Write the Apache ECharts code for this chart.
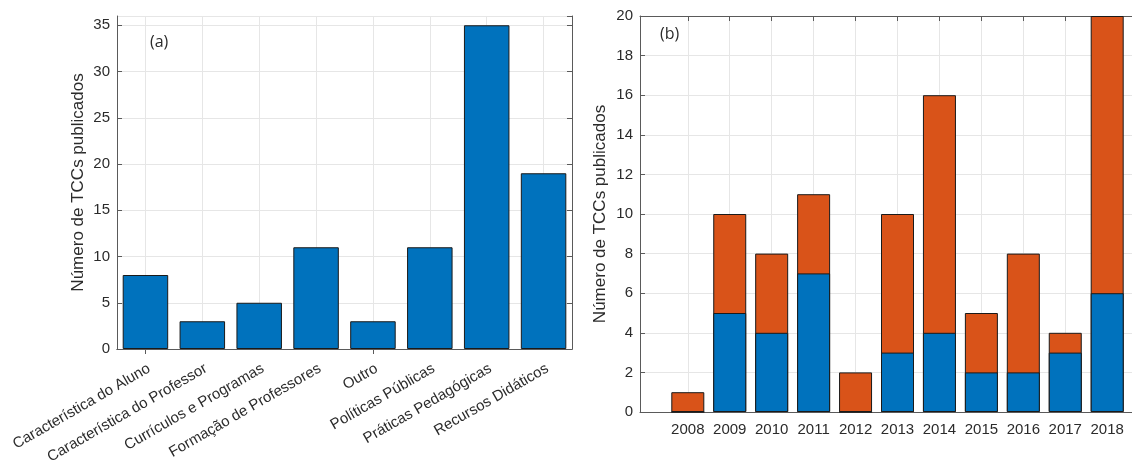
<!DOCTYPE html>
<html>
<head>
<meta charset="utf-8">
<script src="https://cdn.jsdelivr.net/npm/echarts@6/dist/echarts.min.js"></script>
<style>
  html, body { margin: 0; padding: 0; background: #fff; }
  #main { width: 1132px; height: 461px; }
</style>
</head>
<body>
<div id="main"></div>
<script>
// (a) TCCs por tema
const temas = [
  'Característica do Aluno', 'Característica do Professor', 'Currículos e Programas',
  'Formação de Professores', 'Outro', 'Políticas Públicas', 'Práticas Pedagógicas', 'Recursos Didáticos'
]
const tccsPorTema = [8, 3, 5, 11, 3, 11, 35, 19]

// (b) TCCs por ano (azul + laranja empilhados)
const anos = [2008, 2009, 2010, 2011, 2012, 2013, 2014, 2015, 2016, 2017, 2018]
const serieAzul = [0, 5, 4, 7, 0, 3, 4, 2, 2, 3, 6]
const serieLaranja = [1, 5, 4, 4, 2, 7, 12, 3, 6, 1, 14]

const yTicksA = { min: 0, max: 36, interval: 5 }
const yTicksB = { min: 0, max: 20, interval: 2 }

const AXIS = '#5a5a5a'
const TXT = '#2b2b2b'
const GRIDLINE = '#e6e6e6'
const FONT = '"Liberation Sans", Arial, sans-serif'
const BLUE = '#0072BD'
const ORANGE = '#D95319'

const tickInside = { show: true, inside: true, length: 5, lineStyle: { color: AXIS } }
const lineAxis = { show: true, lineStyle: { color: AXIS, width: 1 } }

// stacked look on a value x axis: orange drawn up to the total, blue on top of it
const topoPilha = serieAzul.map((v, i) => v + serieLaranja[i])

const chart = echarts.init(document.getElementById('main'))
chart.setOption({
  animation: false,
  textStyle: { fontFamily: FONT },
  grid: [
    { left: 117, top: 16, width: 455, height: 333, outerBoundsMode: 'none', containLabel: false },
    { left: 640, top: 16, width: 515, height: 396, outerBoundsMode: 'none', containLabel: false }
  ],
  xAxis: [
    {
      gridIndex: 0, type: 'category', data: temas, boundaryGap: true,
      axisLine: lineAxis,
      axisTick: { ...tickInside, alignWithLabel: true },
      axisLabel: { rotate: 30, color: TXT, fontSize: 15, fontFamily: FONT, margin: 12, interval: 0, verticalAlign: 'top' },
      splitLine: { show: true, alignWithLabel: true, lineStyle: { color: GRIDLINE } }
    },
    {
      gridIndex: 0, type: 'category', data: temas, position: 'top', boundaryGap: true,
      axisLine: lineAxis,
      axisTick: { ...tickInside, alignWithLabel: true },
      axisLabel: { show: false }, splitLine: { show: false }
    },
    {
      gridIndex: 1, type: 'value', min: 2006.86, max: 2019.14,
      axisLine: lineAxis,
      axisTick: { ...tickInside, customValues: anos },
      axisLabel: { customValues: anos, formatter: v => String(v), color: TXT, fontSize: 15, fontFamily: FONT, margin: 10 },
      splitLine: { show: true, customValues: anos, lineStyle: { color: GRIDLINE } }
    },
    {
      gridIndex: 1, type: 'value', min: 2006.86, max: 2019.14, position: 'top',
      axisLine: lineAxis,
      axisTick: { ...tickInside, customValues: anos },
      axisLabel: { show: false }, splitLine: { show: false }
    }
  ],
  yAxis: [
    {
      gridIndex: 0, type: 'value', ...yTicksA,
      name: 'Número de TCCs publicados', nameLocation: 'middle', nameGap: 30,
      nameTextStyle: { color: TXT, fontSize: 17, fontFamily: FONT },
      axisLine: lineAxis, axisTick: tickInside,
      axisLabel: { color: TXT, fontSize: 15, fontFamily: FONT, margin: 7, showMaxLabel: false },
      splitLine: { show: true, lineStyle: { color: GRIDLINE } }
    },
    {
      gridIndex: 0, type: 'value', ...yTicksA, position: 'right',
      axisLine: lineAxis, axisTick: tickInside,
      axisLabel: { show: false }, splitLine: { show: false }
    },
    {
      gridIndex: 1, type: 'value', ...yTicksB,
      name: 'Número de TCCs publicados', nameLocation: 'middle', nameGap: 31,
      nameTextStyle: { color: TXT, fontSize: 17, fontFamily: FONT },
      axisLine: lineAxis, axisTick: tickInside,
      axisLabel: { color: TXT, fontSize: 15, fontFamily: FONT, margin: 7 },
      splitLine: { show: true, lineStyle: { color: GRIDLINE } }
    }
  ],
  series: [
    {
      type: 'bar', xAxisIndex: 0, yAxisIndex: 0, data: tccsPorTema,
      barCategoryGap: '20%',
      itemStyle: { color: BLUE, borderColor: '#1a1a1a', borderWidth: 1 }
    },
    {
      type: 'bar', xAxisIndex: 2, yAxisIndex: 2, barWidth: 33, barGap: '-100%',
      data: anos.map((a, i) => [a, topoPilha[i]]),
      itemStyle: { color: ORANGE, borderColor: '#1a1a1a', borderWidth: 1 }
    },
    {
      type: 'bar', xAxisIndex: 2, yAxisIndex: 2, barWidth: 33, barGap: '-100%',
      data: anos.map((a, i) => [a, serieAzul[i]]),
      itemStyle: { color: BLUE, borderColor: '#1a1a1a', borderWidth: 1 }
    }
  ],
  graphic: [
    { type: 'text', left: 150, top: 34, style: { text: '(a)', fontSize: 16, fontFamily: '"Open Sans", sans-serif', fill: TXT } },
    { type: 'text', left: 660, top: 26, style: { text: '(b)', fontSize: 16, fontFamily: '"Open Sans", sans-serif', fill: TXT } }
  ]
})
</script>
</body>
</html>
